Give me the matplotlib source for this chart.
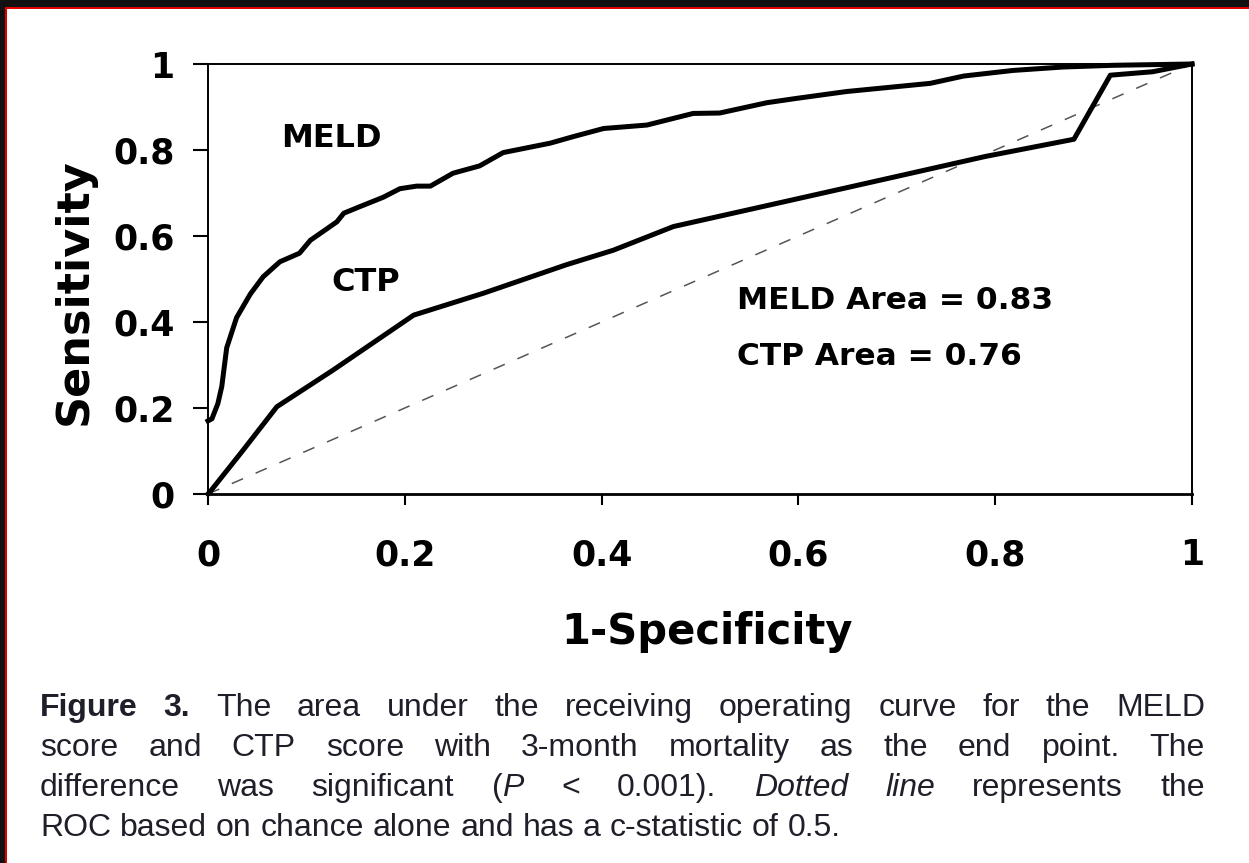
import matplotlib
matplotlib.use('Agg')
import matplotlib.pyplot as plt
from matplotlib.patches import Rectangle

# ---------------- data ----------------
meld_x = [0.0, 0.004, 0.010, 0.014, 0.019, 0.029, 0.043, 0.056, 0.073, 0.093, 0.104,
          0.131, 0.138, 0.154, 0.178, 0.195, 0.212, 0.226, 0.249, 0.276, 0.300,
          0.348, 0.371, 0.402, 0.446, 0.493, 0.520, 0.568, 0.598, 0.649, 0.734,
          0.768, 0.818, 0.869, 0.920, 1.0]
meld_y = [0.17, 0.175, 0.21, 0.25, 0.34, 0.41, 0.465, 0.505, 0.54, 0.56, 0.59,
          0.633, 0.653, 0.668, 0.69, 0.71, 0.716, 0.716, 0.746, 0.763, 0.794,
          0.816, 0.831, 0.850, 0.858, 0.885, 0.886, 0.910, 0.920, 0.936, 0.955,
          0.972, 0.985, 0.993, 0.997, 1.0]

ctp_x = [0.0, 0.002, 0.035, 0.07, 0.127, 0.209, 0.28, 0.364, 0.412, 0.473, 0.594,
         0.699, 0.79, 0.88, 0.917, 0.96, 1.0]
ctp_y = [0.0, 0.005, 0.10, 0.203, 0.288, 0.416, 0.467, 0.533, 0.567, 0.622, 0.684,
         0.738, 0.785, 0.825, 0.974, 0.982, 1.0]

chance_x = [0.0, 1.0]
chance_y = [0.0, 1.0]

tick_vals = [0, 0.2, 0.4, 0.6, 0.8, 1]
tick_labels = ['0', '0.2', '0.4', '0.6', '0.8', '1']

x_label = '1-Specificity'
y_label = 'Sensitivity'
curve_names = ['MELD', 'CTP']
area_texts = ['MELD Area = 0.83', 'CTP Area = 0.76']

# caption: lines -> words -> segments (text, style)
caption_lines = [
    [[('Figure', 'b')], [('3.', 'b')], [('The', 'n')], [('area', 'n')], [('under', 'n')],
     [('the', 'n')], [('receiving', 'n')], [('operating', 'n')], [('curve', 'n')],
     [('for', 'n')], [('the', 'n')], [('MELD', 'n')]],
    [[(w, 'n')] for w in 'score and CTP score with 3-month mortality as the end point. The'.split()],
    [[('difference', 'n')], [('was', 'n')], [('significant', 'n')], [('(', 'n'), ('P', 'i')],
     [('<', 'n')], [('0.001).', 'n')], [('Dotted', 'i')], [('line', 'i')],
     [('represents', 'n')], [('the', 'n')]],
    [[(w, 'n')] for w in 'ROC based on chance alone and has a c-statistic of 0.5.'.split()],
]

# ---------------- figure ----------------
W, H = 1249, 863
fig = plt.figure(figsize=(W / 100, H / 100), dpi=100)
fig.patch.set_facecolor('white')

# outer frame (dark band + red line)
fig.add_artist(Rectangle((0, 1 - 7 / H), 1, 7 / H, transform=fig.transFigure,
                         color='#111111', lw=0))
fig.add_artist(Rectangle((0, 0), 5 / W, 1, transform=fig.transFigure,
                         color='#111111', lw=0))
fig.add_artist(Rectangle((5 / W, 1 - 9 / H), 1, 2 / H, transform=fig.transFigure,
                         color='#e00000', lw=0))
fig.add_artist(Rectangle((5 / W, 0), 2 / W, 1 - 7 / H, transform=fig.transFigure,
                         color='#e00000', lw=0))

ax = fig.add_axes([208 / W, (H - 494) / H, 984 / W, 430 / H])
ax.set_xlim(0, 1)
ax.set_ylim(0, 1)

ax.plot(chance_x, chance_y, color='#555555', lw=1.1, dashes=(8, 9), clip_on=False)
ax.plot(meld_x, meld_y, color='black', lw=3.6, solid_joinstyle='round', clip_on=False)
ax.plot(ctp_x, ctp_y, color='black', lw=3.6, solid_joinstyle='round', clip_on=False)

for s in ax.spines.values():
    s.set_linewidth(1.4)
ax.spines['bottom'].set_linewidth(2.0)

ax.set_xticks(tick_vals)
ax.set_xticklabels(tick_labels, fontsize=25, fontweight='bold', family='DejaVu Sans')
ax.set_yticks(tick_vals)
ax.set_yticklabels(tick_labels, fontsize=25, fontweight='bold', family='DejaVu Sans')
ax.tick_params(axis='x', direction='out', length=8, width=1.5, pad=24)
ax.tick_params(axis='y', direction='out', length=11, width=1.5, pad=13)

ax.set_xlabel(x_label, fontsize=30, fontweight='bold', va='center')
ax.xaxis.set_label_coords((707 - 208) / 984, (494 - 632) / 430)
ax.set_ylabel(y_label, fontsize=32, fontweight='bold', va='center')
ax.yaxis.set_label_coords((74 - 208) / 984, (494 - 292) / 430)

ax.text(0.125, 0.826, curve_names[0], ha='center', va='center', fontsize=23, fontweight='bold')
ax.text(0.160, 0.493, curve_names[1], ha='center', va='center', fontsize=23, fontweight='bold')
ax.text(0.5376, 0.451, area_texts[0], ha='left', va='center', fontsize=22.5, fontweight='bold')
ax.text(0.5376, 0.319, area_texts[1], ha='left', va='center', fontsize=22.5, fontweight='bold')

# ---------------- caption (justified) ----------------
renderer = fig.canvas.get_renderer()
cap_color = '#1f1f2a'
cap_family = 'Liberation Sans'
styles = {'n': dict(fontweight='normal', fontstyle='normal'),
          'b': dict(fontweight='bold', fontstyle='normal'),
          'i': dict(fontweight='normal', fontstyle='italic')}


def seg_w(s, st, size):
    t = fig.text(0, 0, s, fontsize=size, family=cap_family, **styles[st])
    w = t.get_window_extent(renderer).width
    t.remove()
    return w


def word_w(word, size):
    return sum(seg_w(s, st, size) for s, st in word)


def space_w(size):
    return seg_w('x x', 'n', size) - seg_w('xx', 'n', size)


base = 20.0
last = caption_lines[-1]
nat = sum(word_w(w, base) for w in last) + space_w(base) * (len(last) - 1)
cap_size = base * 800.0 / nat

left_px, right_px = 40.0, 1205.0
baselines = [716, 756, 796, 836]
for li, (line, by) in enumerate(zip(caption_lines, baselines)):
    widths = [word_w(w, cap_size) for w in line]
    if li < len(caption_lines) - 1:
        gap = (right_px - left_px - sum(widths)) / (len(line) - 1)
    else:
        gap = space_w(cap_size)
    x = left_px
    for word, ww in zip(line, widths):
        xs = x
        for s, st in word:
            fig.text(xs / W, 1 - by / H, s, fontsize=cap_size, family=cap_family,
                     color=cap_color, ha='left', va='baseline', **styles[st])
            xs += seg_w(s, st, cap_size)
        x += ww + gap

fig.savefig('out.png', dpi=100, facecolor=fig.get_facecolor())
